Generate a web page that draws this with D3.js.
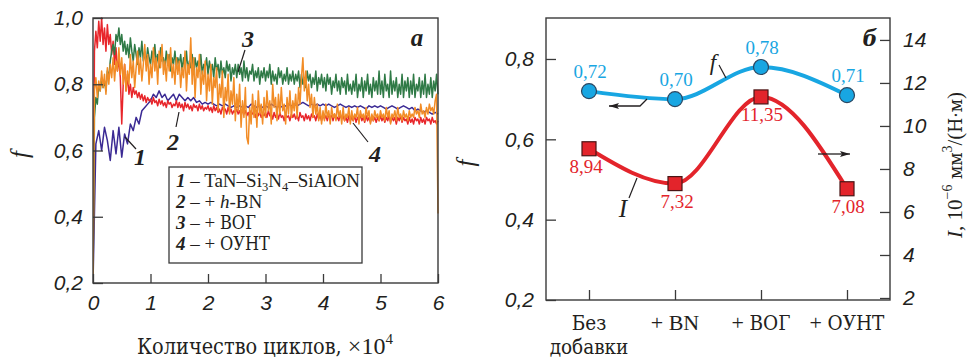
<!DOCTYPE html>
<html><head><meta charset="utf-8">
<script src="https://cdn.jsdelivr.net/npm/d3@7/dist/d3.min.js"></script>
<style>
body{margin:0;background:#fff;}
svg{display:block;}
text{fill:#231f20;}
</style></head>
<body>
<svg id="chart" width="969" height="359"></svg>
<script>
// ---------- Panel a data (cycles ×10^4) ----------
const cycleStep1 = 0.05;   // sampling of series 1
const cycleStep = 0.025;   // sampling of series 2–4
const xTicksA = [0, 1, 2, 3, 4, 5, 6];
const yTicksA = [0.2, 0.4, 0.6, 0.8, 1.0];
const series1 = [ // TaN–Si3N4–SiAlON (blue), step 0.05
  0.20,0.62,0.66,0.60,0.67,0.63,0.57,0.66,0.59,0.67,
  0.58,0.65,0.62,0.68,0.66,0.70,0.68,0.72,0.73,0.74,
  0.75,0.77,0.76,0.78,0.76,0.77,0.75,0.76,0.77,0.75,
  0.77,0.76,0.75,0.76,0.75,0.76,0.745,0.75,0.74,0.745,
  0.74,0.745,0.74,0.735,0.74,0.735,0.74,0.735,0.73,0.735,
  0.73,0.735,0.73,0.735,0.73,0.74,0.735,0.73,0.735,0.73,
  0.735,0.73,0.74,0.735,0.73,0.735,0.73,0.735,0.74,0.735,
  0.74,0.735,0.74,0.745,0.74,0.735,0.74,0.735,0.74,0.735,
  0.74,0.735,0.74,0.735,0.73,0.735,0.74,0.735,0.73,0.735,
  0.73,0.735,0.73,0.735,0.73,0.725,0.735,0.73,0.735,0.73,
  0.735,0.73,0.725,0.73,0.735,0.73,0.725,0.73,0.735,0.73,
  0.725,0.73,0.72,0.725,0.72,0.715,0.72,0.715,0.71,0.715,0.71];
const series2 = [ // + h-BN (red), step 0.025
  0.20,0.90,0.96,0.91,0.99,0.93,1.00,0.92,0.97,0.90,0.98,0.92,0.95,0.89,0.93,0.86,0.91,0.84,0.88,0.82,
  0.68,0.80,0.86,0.78,0.83,0.77,0.80,0.76,0.79,0.77,0.78,0.76,0.775,0.755,0.77,0.75,0.765,0.745,0.76,0.75,
  0.755,0.74,0.76,0.745,0.75,0.735,0.755,0.74,0.75,0.735,0.745,0.73,0.75,0.74,0.745,0.73,0.74,0.735,0.75,0.73,
  0.745,0.73,0.74,0.72,0.745,0.73,0.74,0.725,0.735,0.72,0.74,0.73,0.735,0.72,0.74,0.725,0.735,0.72,0.73,0.725,
  0.735,0.72,0.73,0.715,0.735,0.72,0.73,0.715,0.725,0.71,0.73,0.72,0.725,0.71,0.73,0.715,0.725,0.71,0.72,0.715,
  0.725,0.71,0.72,0.705,0.725,0.71,0.72,0.705,0.715,0.70,0.72,0.71,0.715,0.70,0.72,0.705,0.715,0.70,0.71,0.705,
  0.715,0.70,0.72,0.705,0.71,0.695,0.715,0.70,0.71,0.695,0.715,0.70,0.705,0.69,0.71,0.70,0.705,0.69,0.71,0.70,
  0.71,0.695,0.705,0.69,0.715,0.70,0.705,0.69,0.71,0.695,0.705,0.69,0.71,0.70,0.705,0.69,0.71,0.695,0.705,0.69,
  0.71,0.695,0.705,0.69,0.71,0.70,0.705,0.69,0.71,0.695,0.70,0.69,0.71,0.695,0.705,0.69,0.70,0.685,0.705,0.69,
  0.70,0.69,0.705,0.685,0.70,0.69,0.71,0.69,0.70,0.685,0.705,0.69,0.70,0.685,0.705,0.69,0.70,0.685,0.70,0.69,
  0.705,0.69,0.70,0.685,0.70,0.69,0.705,0.685,0.70,0.69,0.70,0.68,0.70,0.69,0.705,0.685,0.70,0.69,0.695,0.68,
  0.70,0.685,0.695,0.68,0.70,0.69,0.695,0.68,0.70,0.685,0.695,0.68,0.70,0.69,0.695,0.68,0.70,0.685,0.69,0.68,
  0.69];
const series3 = [ // + ВОГ (green), step 0.025
  0.20,0.70,0.76,0.74,0.80,0.78,0.82,0.79,0.81,0.78,0.84,0.82,0.87,0.90,0.92,0.89,0.95,0.93,0.97,0.92,
  0.95,0.90,0.93,0.89,0.92,0.88,0.94,0.90,0.87,0.92,0.89,0.86,0.91,0.88,0.93,0.87,0.90,0.86,0.91,0.88,
  0.86,0.90,0.87,0.92,0.86,0.89,0.85,0.91,0.87,0.88,0.85,0.90,0.86,0.89,0.84,0.88,0.86,0.90,0.85,0.88,
  0.86,0.89,0.84,0.88,0.85,0.90,0.84,0.87,0.85,0.89,0.83,0.88,0.85,0.87,0.84,0.89,0.83,0.86,0.85,0.88,
  0.83,0.87,0.84,0.86,0.82,0.88,0.84,0.86,0.82,0.87,0.83,0.85,0.82,0.87,0.84,0.86,0.81,0.85,0.83,0.86,
  0.82,0.86,0.83,0.85,0.81,0.87,0.82,0.85,0.81,0.84,0.83,0.86,0.81,0.84,0.82,0.85,0.80,0.84,0.82,0.85,
  0.81,0.84,0.82,0.86,0.80,0.84,0.81,0.83,0.80,0.85,0.82,0.84,0.80,0.83,0.81,0.85,0.80,0.83,0.81,0.84,
  0.80,0.83,0.81,0.84,0.79,0.83,0.80,0.82,0.79,0.84,0.81,0.83,0.79,0.82,0.80,0.84,0.78,0.82,0.80,0.83,
  0.79,0.82,0.78,0.83,0.80,0.82,0.77,0.81,0.79,0.83,0.78,0.81,0.77,0.82,0.79,0.81,0.77,0.83,0.78,0.80,
  0.77,0.81,0.78,0.83,0.76,0.80,0.78,0.82,0.76,0.81,0.78,0.83,0.77,0.80,0.76,0.82,0.78,0.81,0.77,0.84,
  0.77,0.81,0.76,0.83,0.78,0.80,0.76,0.84,0.77,0.81,0.78,0.82,0.76,0.80,0.77,0.83,0.76,0.81,0.78,0.82,
  0.76,0.81,0.77,0.83,0.76,0.80,0.78,0.82,0.76,0.81,0.77,0.83,0.76,0.80,0.77,0.82,0.76,0.81,0.78,0.83,
  0.77];
const series4 = [ // + ОУНТ (orange), step 0.025
  0.20,0.78,0.82,0.76,0.81,0.78,0.84,0.79,0.83,0.77,0.85,0.80,0.86,0.82,0.88,0.81,0.87,0.84,0.91,0.83,
  0.88,0.80,0.86,0.78,0.84,0.80,0.89,0.82,0.87,0.79,0.85,0.90,0.83,0.88,0.81,0.86,0.92,0.84,0.89,0.80,
  0.86,0.82,0.91,0.84,0.88,0.80,0.90,0.85,0.92,0.83,0.87,0.81,0.89,0.84,0.91,0.82,0.86,0.80,0.88,0.83,
  0.87,0.79,0.85,0.82,0.90,0.78,0.86,0.83,0.94,0.80,0.88,0.76,0.85,0.82,0.89,0.77,0.84,0.80,0.87,0.75,
  0.83,0.78,0.86,0.74,0.82,0.79,0.85,0.72,0.80,0.76,0.84,0.70,0.79,0.75,0.83,0.71,0.78,0.74,0.82,0.69,
  0.77,0.72,0.80,0.67,0.75,0.70,0.79,0.64,0.62,0.73,0.68,0.77,0.70,0.75,0.67,0.78,0.71,0.74,0.68,0.76,
  0.70,0.78,0.72,0.75,0.68,0.80,0.73,0.76,0.69,0.77,0.71,0.79,0.72,0.74,0.68,0.76,0.71,0.78,0.70,0.75,
  0.72,0.77,0.70,0.79,0.74,0.82,0.88,0.78,0.84,0.75,0.80,0.73,0.77,0.70,0.76,0.71,0.74,0.69,0.73,0.68,
  0.72,0.69,0.74,0.70,0.72,0.68,0.73,0.70,0.71,0.69,0.74,0.70,0.72,0.68,0.73,0.69,0.71,0.70,0.73,0.68,
  0.72,0.69,0.71,0.70,0.73,0.68,0.72,0.70,0.71,0.69,0.73,0.70,0.72,0.68,0.71,0.69,0.72,0.70,0.71,0.69,
  0.72,0.70,0.71,0.69,0.73,0.70,0.72,0.68,0.71,0.70,0.72,0.69,0.73,0.70,0.71,0.69,0.72,0.70,0.71,0.69,
  0.72,0.70,0.71,0.70,0.73,0.71,0.72,0.70,0.74,0.71,0.72,0.70,0.73,0.71,0.74,0.72,0.73,0.71,0.75,0.77,
  0.41];
const seriesColors = ["#3b2a94", "#e8262b", "#2f7a46", "#f28c26"];

// ---------- Panel b data ----------
const categories = ["Без добавки", "+ BN", "+ ВОГ", "+ ОУНТ"];
const fValues = [0.72, 0.70, 0.78, 0.71];
const fLabels = ["0,72", "0,70", "0,78", "0,71"];
const wearValues = [8.94, 7.32, 11.35, 7.08];
const wearLabels = ["8,94", "7,32", "11,35", "7,08"];
const yTicksBLeft = [0.2, 0.4, 0.6, 0.8];
const yTicksBRight = [2, 4, 6, 8, 10, 12, 14];

const svg = d3.select("#chart");
const axisColor = "#3a3a3a";
const tickFont = "'Liberation Sans', Arial, sans-serif";
const serif = "'Liberation Serif', 'Times New Roman', serif";
const cyr = "'DejaVu Serif Condensed', 'DejaVu Serif', serif";   // serif face with Cyrillic glyphs
const comma1 = d => d3.format(".1f")(d).replace(".", ",");

// ================= Panel a =================
const ax = {l: 93, r: 438, t: 18, b: 283};
const xA = d3.scaleLinear().domain([0, 6]).range([ax.l, ax.r]);
const yA = d3.scaleLinear().domain([0.2, 1.0]).range([ax.b, ax.t]);

const gA = svg.append("g");
svg.append("clipPath").attr("id", "clipA").append("rect")
  .attr("x", ax.l).attr("y", ax.t - 2).attr("width", ax.r - ax.l + 1).attr("height", ax.b - ax.t + 2);
[series1, series2, series3, series4].forEach((s, k) => {
  const step = k === 0 ? cycleStep1 : cycleStep;
  const lineA = d3.line().x((d, i) => xA(i * step)).y(d => yA(d));
  gA.append("path").datum(s).attr("clip-path", "url(#clipA)")
    .attr("fill", "none").attr("stroke", seriesColors[k])
    .attr("stroke-width", 1.5).attr("stroke-linejoin", "round")
    .attr("d", lineA);
});

// axes a
const axisLA = d3.axisLeft(yA).tickValues(yTicksA).tickSize(-10).tickSizeOuter(0).tickPadding(10).tickFormat(comma1);
const gLA = gA.append("g").attr("transform", `translate(${ax.l},0)`).call(axisLA);
const axisBA = d3.axisBottom(xA).tickValues(xTicksA).tickSize(-9).tickSizeOuter(0).tickPadding(12).tickFormat(d3.format("d"));
const gBA = gA.append("g").attr("transform", `translate(0,${ax.b})`).call(axisBA);
[gLA, gBA].forEach(g => {
  g.select(".domain").remove();
  g.selectAll("line").attr("stroke", axisColor).attr("stroke-width", 1.3);
  g.selectAll("text").attr("font-family", tickFont).attr("font-style", "italic")
    .attr("font-size", 21).attr("fill", "#231f20");
});
gBA.selectAll("text").attr("dy", "0.71em");
gA.append("rect").attr("x", ax.l).attr("y", ax.t).attr("width", ax.r - ax.l).attr("height", ax.b - ax.t)
  .attr("fill", "none").attr("stroke", axisColor).attr("stroke-width", 1.4);

// axis titles a
gA.append("text").attr("x", 28).attr("y", (ax.t + ax.b) / 2 + 4)
  .attr("transform", `rotate(-90,28,${(ax.t + ax.b) / 2 + 4})`)
  .attr("text-anchor", "middle").attr("font-family", serif).attr("font-style", "italic").attr("font-size", 25).text("f");
const xt = gA.append("text").attr("x", 265).attr("y", 354).attr("text-anchor", "middle")
  .attr("font-family", cyr).attr("font-size", 21.5);
xt.append("tspan").text("Количество циклов, ");
xt.append("tspan").attr("font-family", serif).attr("font-size", 24).text("×10");
xt.append("tspan").attr("dy", -10).attr("font-family", serif).attr("font-size", 15).text("4");

gA.append("text").attr("x", 417).attr("y", 46).attr("text-anchor", "middle")
  .attr("font-family", serif).attr("font-style", "italic").attr("font-weight", "bold").attr("font-size", 25).text("a");

// curve number labels with leaders
const numLabels = [
  {t: "1", x: 140, y: 165, lx1: 125, ly1: 137, lx2: 136, ly2: 149},
  {t: "2", x: 173, y: 150, lx1: 176, ly1: 127, lx2: 179, ly2: 112},
  {t: "3", x: 248, y: 47, lx1: 245, ly1: 50, lx2: 238, ly2: 72},
  {t: "4", x: 375, y: 162, lx1: 353, ly1: 123, lx2: 368, ly2: 142}
];
numLabels.forEach(n => {
  gA.append("line").attr("x1", n.lx1).attr("y1", n.ly1).attr("x2", n.lx2).attr("y2", n.ly2)
    .attr("stroke", "#231f20").attr("stroke-width", 1.2);
  gA.append("text").attr("x", n.x).attr("y", n.y).attr("text-anchor", "middle")
    .attr("font-family", serif).attr("font-style", "italic").attr("font-weight", "bold").attr("font-size", 24).text(n.t);
});

// legend
gA.append("rect").attr("x", 169).attr("y", 167).attr("width", 193).attr("height", 96)
  .attr("fill", "#fff").attr("stroke", axisColor).attr("stroke-width", 1.3);
const legY = [187, 208, 229, 250];
const legendItems = [
  [["1", "num"], [" – TaN–Si", ""], ["3", "sub"], ["N", ""], ["4", "sub"], ["–SiAlON", ""]],
  [["2", "num"], [" – + ", ""], ["h", "it"], ["-BN", ""]],
  [["3", "num"], [" – + ", ""], ["ВОГ", "cyr"]],
  [["4", "num"], [" – + ", ""], ["ОУНТ", "cyr"]]
];
legendItems.forEach((parts, i) => {
  const t = gA.append("text").attr("x", 176).attr("y", legY[i]).attr("font-family", serif).attr("font-size", 19);
  let shifted = false;
  parts.forEach(([s, kind]) => {
    const sp = t.append("tspan").text(s);
    if (kind === "num") sp.attr("font-style", "italic").attr("font-weight", "bold");
    if (kind === "it") sp.attr("font-style", "italic");
    if (kind === "cyr") sp.attr("font-family", cyr).attr("font-size", 18);
    if (kind === "sub") { sp.attr("font-size", 12.5).attr("dy", 4); shifted = true; }
    else if (shifted) { sp.attr("dy", -4); shifted = false; }
  });
});

// ================= Panel b =================
const bx = {l: 546, r: 890, t: 18, b: 300};
const xB = d3.scalePoint().domain(categories).range([bx.l, bx.r]).padding(0.5);
const yF = d3.scaleLinear().domain([0.2, 0.902]).range([bx.b, bx.t]);
const yI = d3.scaleLinear().domain([1.907, 15.02]).range([bx.b, bx.t]);
const gB = svg.append("g");

const axisLB = d3.axisLeft(yF).tickValues(yTicksBLeft).tickSize(-10).tickSizeOuter(0).tickPadding(12).tickFormat(comma1);
const gLB = gB.append("g").attr("transform", `translate(${bx.l},0)`).call(axisLB);
const axisRB = d3.axisRight(yI).tickValues(yTicksBRight).tickSize(-10).tickSizeOuter(0).tickPadding(13).tickFormat(d3.format("d"));
const gRB = gB.append("g").attr("transform", `translate(${bx.r},0)`).call(axisRB);
const axisBB = d3.axisBottom(xB).tickSize(-10).tickSizeOuter(0).tickFormat("");
const gBB = gB.append("g").attr("transform", `translate(0,${bx.b})`).call(axisBB);
[gLB, gRB, gBB].forEach(g => {
  g.select(".domain").remove();
  g.selectAll("line").attr("stroke", axisColor).attr("stroke-width", 1.3);
  g.selectAll("text").attr("font-family", tickFont).attr("font-style", "italic")
    .attr("font-size", 21).attr("fill", "#231f20");
});
gB.append("rect").attr("x", bx.l).attr("y", bx.t).attr("width", bx.r - bx.l).attr("height", bx.b - bx.t)
  .attr("fill", "none").attr("stroke", axisColor).attr("stroke-width", 1.4);

// category labels
categories.forEach(c => {
  const words = c === "Без добавки" ? ["Без", "добавки"] : [c];
  words.forEach((w, j) => {
    const t = gB.append("text").attr("x", xB(c)).attr("y", 330 + j * 24).attr("text-anchor", "middle")
      .attr("font-family", serif).attr("font-size", 22);
    if (w.startsWith("+ ")) {
      t.append("tspan").text("+ ");
      const rest = w.slice(2);
      const isCyr = /[А-Яа-я]/.test(rest);
      t.append("tspan").attr("font-family", isCyr ? cyr : serif).attr("font-size", isCyr ? 20.5 : 22).text(rest);
    } else {
      t.attr("font-family", cyr).attr("font-size", 20.5).text(w);
    }
  });
});

// axis titles b
gB.append("text").attr("x", 474).attr("y", 163).attr("transform", "rotate(-90,474,163)")
  .attr("text-anchor", "middle").attr("font-family", serif).attr("font-style", "italic").attr("font-size", 25).text("f");
const rt = gB.append("text").attr("x", 962).attr("y", 165).attr("transform", "rotate(-90,962,165)")
  .attr("text-anchor", "middle").attr("font-family", serif).attr("font-size", 21);
rt.append("tspan").attr("font-style", "italic").text("I");
rt.append("tspan").text(", 10");
rt.append("tspan").attr("dy", -10).attr("font-size", 14).text("−6");
rt.append("tspan").attr("dy", 10).attr("font-family", cyr).attr("font-size", 19).text(" мм");
rt.append("tspan").attr("dy", -10).attr("font-size", 14).text("3");
rt.append("tspan").attr("dy", 10).text("/(");
rt.append("tspan").attr("font-family", cyr).attr("font-size", 19).text("Н·м");
rt.append("tspan").text(")");

gB.append("text").attr("x", 870).attr("y", 46).attr("text-anchor", "middle")
  .attr("font-family", cyr).attr("font-style", "italic").attr("font-weight", "bold").attr("font-size", 23).text("б");

// curves
const blueC = "#18a6e2", redC = "#e3242b";
const lineF = d3.line().x((d, i) => xB(categories[i])).y(d => yF(d)).curve(d3.curveMonotoneX);
const lineI = d3.line().x((d, i) => xB(categories[i])).y(d => yI(d)).curve(d3.curveMonotoneX);
gB.append("path").datum(fValues).attr("fill", "none").attr("stroke", blueC).attr("stroke-width", 4).attr("d", lineF);
gB.append("path").datum(wearValues).attr("fill", "none").attr("stroke", redC).attr("stroke-width", 4).attr("d", lineI);

gB.selectAll(".fpt").data(fValues).join("circle").attr("class", "fpt")
  .attr("cx", (d, i) => xB(categories[i])).attr("cy", d => yF(d)).attr("r", 7.5)
  .attr("fill", blueC).attr("stroke", "#2c4660").attr("stroke-width", 1.2);
const sq = 14;
gB.selectAll(".ipt").data(wearValues).join("rect").attr("class", "ipt")
  .attr("x", (d, i) => xB(categories[i]) - sq / 2).attr("y", d => yI(d) - sq / 2)
  .attr("width", sq).attr("height", sq)
  .attr("fill", redC).attr("stroke", "#4a1515").attr("stroke-width", 1.2);

gB.selectAll(".flab").data(fValues).join("text").attr("class", "flab")
  .attr("x", (d, i) => xB(categories[i]) + 1).attr("y", d => yF(d) - 13)
  .attr("text-anchor", "middle").attr("font-family", serif).attr("font-size", 19)
  .style("fill", blueC).text((d, i) => fLabels[i]);
gB.selectAll(".ilab").data(wearValues).join("text").attr("class", "ilab")
  .attr("x", (d, i) => xB(categories[i]) + [-3, 2, 1, 1][i]).attr("y", d => yI(d) + 24)
  .attr("text-anchor", "middle").attr("font-family", serif).attr("font-size", 19)
  .style("fill", redC).text((d, i) => wearLabels[i]);

// curve labels and arrows
gB.append("text").attr("x", 713).attr("y", 70).attr("text-anchor", "middle")
  .attr("font-family", serif).attr("font-style", "italic").attr("font-size", 23).text("f");
gB.append("line").attr("x1", 719).attr("y1", 65).attr("x2", 726).attr("y2", 78).attr("stroke", "#231f20").attr("stroke-width", 1.2);
gB.append("text").attr("x", 623).attr("y", 217).attr("text-anchor", "middle")
  .attr("font-family", serif).attr("font-style", "italic").attr("font-size", 25).text("I");
gB.append("line").attr("x1", 629).attr("y1", 198).attr("x2", 637).attr("y2", 178).attr("stroke", "#231f20").attr("stroke-width", 1.2);

const defs = svg.append("defs");
defs.append("marker").attr("id", "arr").attr("viewBox", "0 0 10 6").attr("refX", 10).attr("refY", 3)
  .attr("markerWidth", 11).attr("markerHeight", 6).attr("markerUnits", "userSpaceOnUse").attr("orient", "auto")
  .append("path").attr("d", "M0,0 L10,3 L0,6 L2,3 Z").attr("fill", "#231f20");
gB.append("path").attr("d", "M647,99 L640,106 L609,106").attr("fill", "none")
  .attr("stroke", "#231f20").attr("stroke-width", 1.3).attr("marker-end", "url(#arr)");
gB.append("path").attr("d", "M818,154 L850,154").attr("fill", "none")
  .attr("stroke", "#231f20").attr("stroke-width", 1.3).attr("marker-end", "url(#arr)");
</script>
</body></html>
